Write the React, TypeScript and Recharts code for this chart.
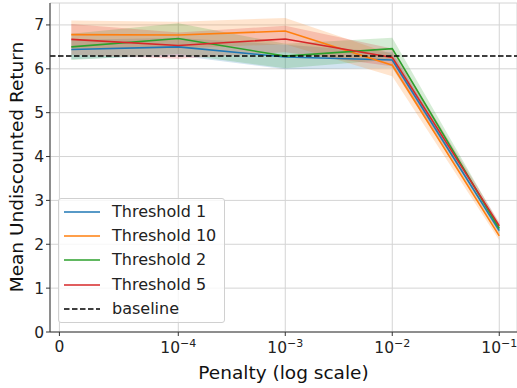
import React from 'react';
import {
  ComposedChart, Line, Area, XAxis, YAxis, CartesianGrid, ReferenceLine,
} from 'recharts';

const penalties = [1e-5, 1e-4, 1e-3, 1e-2, 1e-1];
const threshold1 = [6.44, 6.5, 6.27, 6.2, 2.31];
const threshold10 = [6.78, 6.77, 6.86, 6.08, 2.19];
const threshold2 = [6.5, 6.69, 6.29, 6.46, 2.36];
const threshold5 = [6.67, 6.53, 6.68, 6.26, 2.42];
const err1 = [0.22, 0.2, 0.28, 0.18, 0.08];
const err10 = [0.32, 0.3, 0.3, 0.25, 0.1];
const err2 = [0.3, 0.35, 0.28, 0.25, 0.1];
const err5 = [0.35, 0.3, 0.3, 0.2, 0.08];
const baseline = 6.29;
const xTickValues = [0, 1e-4, 1e-3, 1e-2, 1e-1];
const xTickExp = ['', '−4', '−3', '−2', '−1'];
const yTicks = [0, 1, 2, 3, 4, 5, 6, 7];

const LINTHRESH = 1e-4;
const LINSCALE = 1 / (1 - 1 / 10);
const symlog = (v: number) =>
  v <= LINTHRESH ? (v / LINTHRESH) * LINSCALE : LINSCALE + Math.log10(v / LINTHRESH);

const series = [
  { key: 't1', name: 'Threshold 1', color: '#1f77b4', vals: threshold1, err: err1 },
  { key: 't10', name: 'Threshold 10', color: '#ff7f0e', vals: threshold10, err: err10 },
  { key: 't2', name: 'Threshold 2', color: '#2ca02c', vals: threshold2, err: err2 },
  { key: 't5', name: 'Threshold 5', color: '#d62728', vals: threshold5, err: err5 },
];

const data = penalties.map((p, i) => {
  const row: any = { u: symlog(p) };
  series.forEach((s) => {
    row[s.key] = s.vals[i];
    row[s.key + 'band'] = [s.vals[i] - s.err[i], s.vals[i] + s.err[i]];
  });
  return row;
});

const xTicks = xTickValues.map(symlog);
const FONT = '"DejaVu Sans", sans-serif';

const XTick = (props: any) => {
  const { x, y, payload } = props;
  const idx = xTicks.findIndex((t) => Math.abs(t - payload.value) < 1e-6);
  if (idx === 0) {
    return (
      <text x={x} y={y + 14} textAnchor="middle" fontSize={15.5} fill="#222" fontFamily={FONT}>0</text>
    );
  }
  return (
    <text x={x} y={y + 15} textAnchor="middle" fontSize={15.5} fill="#222" fontFamily={FONT}>
      <tspan>10</tspan>
      <tspan dy={-6.5} fontSize={11}>{xTickExp[idx]}</tspan>
    </text>
  );
};

const LegendBox = () => (
  <div
    style={{
      position: 'absolute', left: 58, top: 198,
      width: 167, height: 125, background: 'rgba(255,255,255,0.8)', border: '1px solid #d0d0d0',
      borderRadius: 3, fontFamily: FONT, fontSize: 16, color: '#222', boxSizing: 'border-box',
      paddingTop: 1,
    }}
  >
    {series.map((s) => (
      <div key={s.key} style={{ display: 'flex', alignItems: 'center', height: 24.2 }}>
        <svg width={36} height={4} style={{ marginLeft: 5 }}>
          <line x1={0} y1={2} x2={36} y2={2} stroke={s.color} strokeWidth={1.6} />
        </svg>
        <span style={{ marginLeft: 12, lineHeight: '18px' }}>{s.name}</span>
      </div>
    ))}
    <div style={{ display: 'flex', alignItems: 'center', height: 24.2 }}>
      <svg width={36} height={4} style={{ marginLeft: 5 }}>
        <line x1={0} y1={2} x2={36} y2={2} stroke="#000" strokeWidth={1.6} strokeDasharray="5.5 2.5" />
      </svg>
      <span style={{ marginLeft: 12, lineHeight: '18px' }}>baseline</span>
    </div>
  </div>
);

export default function App() {
  return (
    <div style={{ position: 'absolute', left: 0, top: 0, width: 517, height: 388, background: '#fff' }}>
      <ComposedChart width={517} height={388} data={data} margin={{ top: 3, right: 0, left: 0, bottom: 0 }}>
        <CartesianGrid stroke="#d4d4d4" strokeWidth={1} horizontal vertical />
        <XAxis
          dataKey="u" type="number" domain={[-0.088, 4.277]} ticks={xTicks} allowDataOverflow
          height={56} tickSize={4} stroke="#333" tick={<XTick />} interval={0}
          label={{ value: 'Penalty (log scale)', position: 'insideBottom', offset: 9, fontSize: 18.5, fill: '#111', fontFamily: FONT }}
        />
        <XAxis xAxisId="top" orientation="top" dataKey="u" type="number" domain={[-0.088, 4.277]} tick={false} tickLine={false} height={0} stroke="#333" />
        <YAxis
          type="number" domain={[0, 7.5]} ticks={yTicks} width={50} tickSize={4} stroke="#333"
          tick={{ fontSize: 15.5, fill: '#222', fontFamily: FONT }} interval={0}
          label={{
            content: () => (
              <text transform="translate(16,167) rotate(-90)" textAnchor="middle" dominantBaseline="central" fontSize={18.5} fill="#111" fontFamily={FONT}>
                Mean Undiscounted Return
              </text>
            ),
          }}
        />
        {series.map((s) => (
          <Area key={s.key + 'band'} dataKey={s.key + 'band'} type="linear" stroke="none" fill={s.color} fillOpacity={0.2} isAnimationActive={false} legendType="none" />
        ))}
        {series.map((s) => (
          <Line key={s.key} dataKey={s.key} name={s.name} type="linear" stroke={s.color} strokeWidth={1.6} dot={false} activeDot={false} isAnimationActive={false} />
        ))}
        <ReferenceLine y={baseline} stroke="#000" strokeWidth={1.5} strokeDasharray="5.5 2.5" />
      </ComposedChart>
      <LegendBox />
    </div>
  );
}
